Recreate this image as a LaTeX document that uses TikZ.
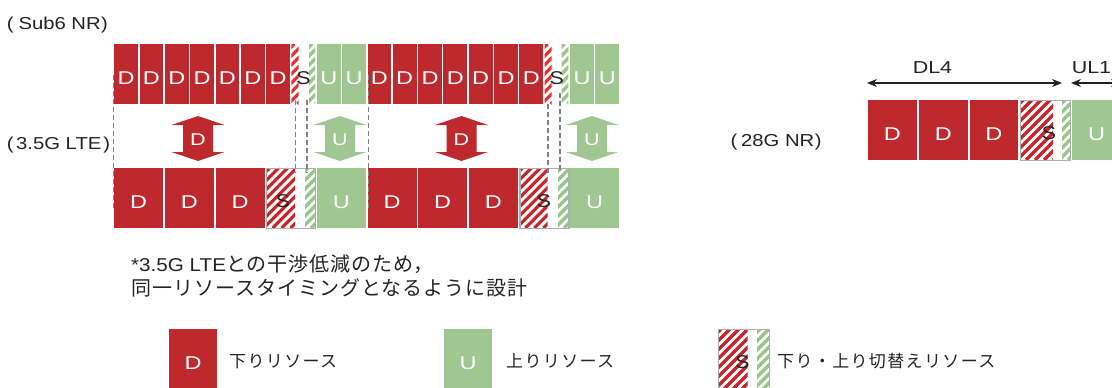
\documentclass[tikz,border=0pt]{standalone}
\usepackage{fontspec}
\setmainfont{Liberation Sans}[FakeStretch=1.17]
\newfontfamily\cellfont{Liberation Sans}[FakeStretch=1.27]
\newfontfamily\sfont{Liberation Sans}[FakeStretch=1.15]
\newfontfamily\dimfont{Liberation Sans}[FakeStretch=1.24]
\newfontfamily\cjk{Noto Sans CJK JP}[LetterSpace=8]
\newfontfamily\cjknote{Noto Sans CJK JP}[LetterSpace=5]
\newfontfamily\latnote{Liberation Sans}[FakeStretch=1.11]
\usetikzlibrary{arrows.meta}
\definecolor{dred}{RGB}{190,41,46}
\definecolor{ugreen}{RGB}{160,198,146}
\definecolor{sred}{RGB}{196,38,44}
\definecolor{sredlt}{RGB}{222,52,56}
\definecolor{sgreen}{RGB}{150,198,138}
\definecolor{boxgray}{RGB}{175,175,178}
\definecolor{guidegray}{RGB}{130,130,130}
\definecolor{txt}{RGB}{35,35,35}
\newcommand\stripefill[5]{%
  \begin{scope}
    \clip (#1,#3) rectangle (#2,#4);
    \foreach \k in {-66,-57,...,60}
      \draw[#5, line width=3.2pt] ({#1+(\k)},#4) -- ({#1+(\k)+#4-#3},#3);
  \end{scope}}
\newcommand\dblarrow[2]{%
  \fill[#2] (#1,116) -- ({#1+26.5},125) -- ({#1+15},125) -- ({#1+15},152)
    -- ({#1+26.5},152) -- (#1,161) -- ({#1-26.5},152) -- ({#1-15},152)
    -- ({#1-15},125) -- ({#1-26.5},125) -- cycle;}
\begin{document}
\begin{tikzpicture}[x=1pt,y=-1pt,
  cell/.style={minimum height=60pt, inner sep=0pt, anchor=north west,
    text height=20.8pt, text depth=0pt, font=\cellfont\fontsize{18.5}{18.5}\selectfont},
  cellD/.style={cell, fill=dred, text=white},
  cellU/.style={cell, fill=ugreen, text=white},
  cellS/.style={cell, text=txt, font=\sfont\fontsize{18.5}{18.5}\selectfont},
  sbox/.style={cell, draw=boxgray, line width=1.3pt},
  nr/.style={minimum width=23.8pt},
  lte/.style={minimum width=49pt},
  mm/.style={minimum width=48.5pt},
  sletter/.style={inner sep=0pt, anchor=base, text=txt, font=\sfont\fontsize{18.5}{18.5}\selectfont},
  alabel/.style={inner sep=0pt, anchor=base, text=white, font=\cellfont\fontsize{17}{17}\selectfont},
  guide/.style={draw=guidegray, line width=1.1pt, dash pattern=on 5pt off 3pt},
  lbl/.style={inner sep=0pt, anchor=base west, text=txt, font=\fontsize{17.3}{17.3}\selectfont},
  lblc/.style={inner sep=0pt, anchor=base, text=txt, font=\dimfont\fontsize{17.3}{17.3}\selectfont},
  leg/.style={inner sep=0pt, anchor=base west, text=txt, font=\cjk\fontsize{17}{17}\selectfont},
  dim/.style={draw=txt, line width=1.3pt, {Stealth[length=10pt,width=8pt]}-{Stealth[length=10pt,width=8pt]}},
  ]
\useasboundingbox (0,0) rectangle (1112,388);
\clip (0,0) rectangle (1112,388);

% ---------- labels ----------
\node[lbl] (lsub6) at (6.6,30) {(\kern5pt Sub6 NR\kern0.5pt)};
\node[lbl] (llte) at (6.6,149.5) {(\kern2.7pt 3.5G LTE\kern2pt)};
\node[lbl] (l28) at (730.3,146.7) {(\kern4pt 28G NR\kern0.5pt)};

% ---------- Sub6 NR row ----------
\stripefill{291.3}{298.5}{44}{104}{sredlt}
\stripefill{309}{315.1}{44}{104}{sgreen}
\stripefill{544.6}{551.5}{44}{104}{sredlt}
\stripefill{561.5}{568.4}{44}{104}{sgreen}
\foreach \t [count=\i from 0] in {D,D,D,D,D,D,D,S,U,U,D,D,D,D,D,D,D,S,U,U}
  \node[cell\t, nr] (nr\i) at ({114+25.33*\i},44) {\t};

% ---------- 3.5G LTE row ----------
\stripefill{266.6}{295}{168}{228}{sred}
\stripefill{305}{315.6}{168}{228}{sgreen}
\stripefill{519.3}{547.5}{168}{228}{sred}
\stripefill{558}{568.3}{168}{228}{sgreen}
\node[cellD, lte] (lte0) at (114,168) {D};
\node[cellD, lte] (lte1) at (164.66,168) {D};
\node[cellD, lte] (lte2) at (215.32,168) {D};
\node[sbox, lte] (lte3) at (265.98,168) {};
\node[cellU, lte] (lte4) at (316.64,168) {U};
\node[cellD, lte] (lte5) at (367.3,168) {D};
\node[cellD, lte] (lte6) at (417.96,168) {D};
\node[cellD, lte] (lte7) at (468.62,168) {D};
\node[sbox, lte] (lte8) at (519.28,168) {};
\node[cellU, lte] (lte9) at (569.94,168) {U};
\node[sletter] (lteS1) at (283,207.5) {S};
\node[sletter] (lteS2) at (544,207.5) {S};

% ---------- guides ----------
\draw[guide] (113.6,75) -- (113.6,211);
\draw[guide] (295.5,100) -- (295.5,173);
\draw[guide] (307,100) -- (307,173);
\draw[guide] (368.2,75) -- (368.2,211);
\draw[guide] (548,104) -- (548,173);
\draw[guide] (560,93) -- (560,173);

% ---------- double arrows ----------
\dblarrow{198}{dred}
\dblarrow{340}{ugreen}
\dblarrow{461.5}{dred}
\dblarrow{592}{ugreen}
\node[alabel] (ad1) at (198,145.5) {D};
\node[alabel] (au1) at (340,145.5) {U};
\node[alabel] (ad2) at (461.5,145.5) {D};
\node[alabel] (au2) at (592,145.5) {U};

% ---------- 28G NR ----------
\stripefill{1020}{1053}{100}{160}{sred}
\stripefill{1062}{1070}{100}{160}{sgreen}
\node[cellD, mm] (mm0) at (868,100) {D};
\node[cellD, mm] (mm1) at (919,100) {D};
\node[cellD, mm] (mm2) at (969.5,100) {D};
\node[sbox, minimum width=50pt] (mm3) at (1020,100) {};
\node[cellU, minimum width=49pt] (mm4) at (1072,100) {U};
\node[sletter] (mmS) at (1049,139.5) {S};
\coordinate (dlA) at (867,83);
\coordinate (dlB) at (1062,83);
\coordinate (ulA) at (1071,83);
\coordinate (ulB) at (1121,83);
\draw[dim] (dlA) -- (dlB);
\draw[dim] (ulA) -- (ulB);
\node[lblc] (tDL) at (932.5,73.3) {DL4};
\node[lblc] (tUL) at (1091.5,73.3) {UL1};

% ---------- note ----------
\node[inner sep=0pt, anchor=base west, text=txt] (note1) at (131,271)
  {{\latnote\fontsize{18.6}{18.6}\selectfont *3.5G LTE}{\cjknote\fontsize{20}{20}\selectfont との干渉低減のため，}};
\node[inner sep=0pt, anchor=base west, text=txt] (note2) at (131,295)
  {\cjknote\fontsize{20}{20}\selectfont 同一リソースタイミングとなるように設計};

% ---------- legend ----------
\stripefill{718}{747.5}{329}{389}{sred}
\stripefill{757}{769}{329}{389}{sgreen}
\node[cellD, minimum width=48pt] (lgD) at (169,329) {D};
\node[cellU, minimum width=48pt] (lgU) at (444,329) {U};
\node[sbox, minimum width=51pt] (lgS) at (718,329) {};
\node[sletter] (lgSt) at (742.5,368) {S};
\node[leg] (tD) at (229,367) {下りリソース};
\node[leg] (tU) at (506,367) {上りリソース};
\node[leg] (tS) at (777,367) {下り・上り切替えリソース};
\end{tikzpicture}
\end{document}
